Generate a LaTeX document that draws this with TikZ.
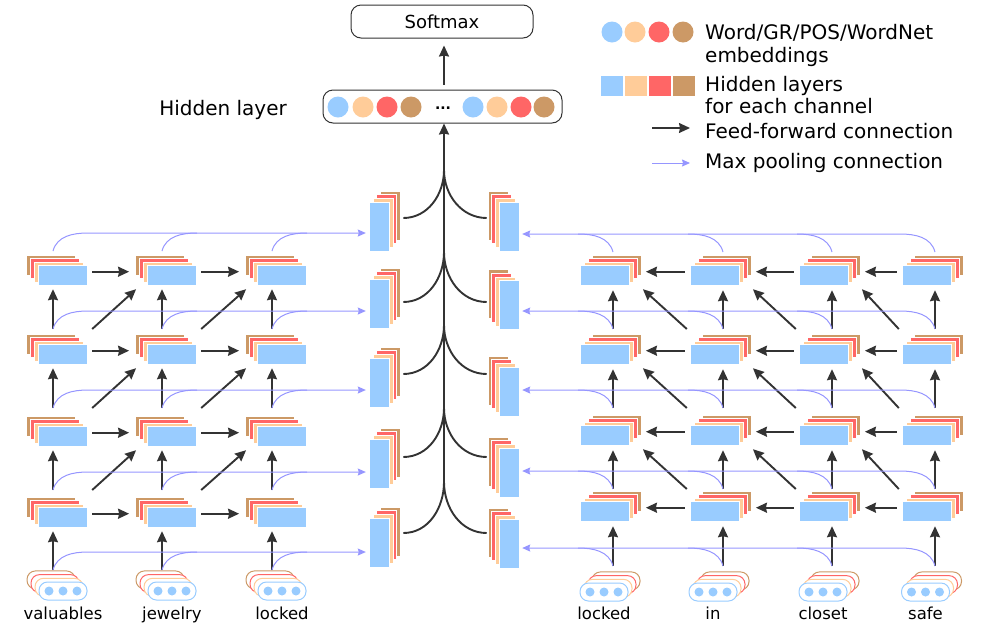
\documentclass[tikz,border=0pt]{standalone}
\usepackage{fontspec}
\setmainfont{DejaVu Sans}
\usetikzlibrary{arrows.meta}

\definecolor{hblue}{RGB}{153,204,255}
\definecolor{hpeach}{RGB}{255,204,153}
\definecolor{hred}{RGB}{255,102,102}
\definecolor{hbrown}{RGB}{204,153,102}
\definecolor{ffgray}{RGB}{51,51,51}
\definecolor{poolblue}{RGB}{150,150,255}

\begin{document}
\begin{tikzpicture}[x=1pt, y=-1pt,
    hlayer/.style={draw=white, line width=0.4pt, inner sep=0pt, minimum width=49pt, minimum height=20pt},
    vlayer/.style={draw=white, line width=0.4pt, inner sep=0pt, minimum width=20pt, minimum height=49pt},
    pill/.style={draw, fill=white, line width=1pt, rounded corners=8.5pt, inner sep=0pt, minimum width=48pt, minimum height=18pt},
    box/.style={draw=ffgray, line width=1pt, rounded corners=10pt, inner sep=0pt, minimum height=33pt},
    ff/.style={draw=ffgray, line width=1.9pt, -{Stealth[length=11pt, width=10pt, inset=1pt]}},
    link/.style={draw=ffgray, line width=1.9pt},
    pool/.style={draw=poolblue, line width=1pt, -{Stealth[length=8pt, width=7pt, inset=1pt]}},
    tap/.style={draw=poolblue, line width=1pt},
    word/.style={font=\fontsize{16.5}{20}\selectfont, inner sep=0pt},
    legtext/.style={font=\fontsize{20}{23}\selectfont, inner sep=0pt, anchor=base west}]
  \useasboundingbox (0,0) rectangle (981,622);

  % left hidden layers
  \foreach \i/\y in {1/275, 2/354, 3/436, 4/517}
    \foreach \j/\x in {1/62.5, 2/171.5, 3/281.5} {
      \foreach \k/\col in {3/hbrown, 2/hred, 1/hpeach}
        \node[hlayer, fill=\col] (L\i\j-\k) at (\x-3.9*\k, \y-3.3*\k) {};
      \node[hlayer, fill=hblue] (L\i\j) at (\x,\y) {};
    }
  % right hidden layers
  \foreach \i/\y in {1/275, 2/354, 3/435, 4/511}
    \foreach \j/\x in {1/604.5, 2/714.5, 3/823.5, 4/926.5} {
      \foreach \k/\col in {3/hbrown, 2/hred, 1/hpeach}
        \node[hlayer, fill=\col] (R\i\j-\k) at (\x+3.9*\k, \y-3.3*\k) {};
      \node[hlayer, fill=hblue] (R\i\j) at (\x,\y) {};
    }

  % input embeddings
  \foreach \j/\x/\w in {1/63/valuables, 2/172/jewelry, 3/282/locked} {
    \foreach \k/\col in {3/hbrown, 2/hred, 1/hpeach}
      \node[pill, draw=\col] at (\x-4*\k, 591-3.7*\k) {};
    \node[pill, draw=hblue] (IL\j) at (\x,591) {};
    \foreach \d in {-14,0,14}
      \fill[hblue] (\x+\d,591) circle (4.5pt);
    \node[word, anchor=base] (WL\j) at (\x,619) {\w};
  }
  \foreach \j/\x/\w in {1/604/locked, 2/713/in, 3/823/closet, 4/925.5/safe} {
    \foreach \k/\col in {3/hbrown, 2/hred, 1/hpeach}
      \node[pill, draw=\col] at (\x+4*\k, 592-3.7*\k) {};
    \node[pill, draw=hblue] (IR\j) at (\x,592) {};
    \foreach \d in {-14,0,14}
      \fill[hblue] (\x+\d,592) circle (4.5pt);
    \node[word, anchor=base] (WR\j) at (\x,619) {\w};
  }

  % pooled layers
  \foreach \i/\y in {1/226.5, 2/303.5, 3/382.5, 4/463.5, 5/542.5} {
    \foreach \k/\col in {3/hbrown, 2/hred, 1/hpeach}
      \node[vlayer, fill=\col] (PL\i-\k) at (379+3.7*\k, \y-3.7*\k) {};
    \node[vlayer, fill=hblue] (PL\i) at (379,\y) {};
  }
  \foreach \i/\y in {1/226.5, 2/305, 3/391.5, 4/472.5, 5/543.5} {
    \foreach \k/\col in {3/hbrown, 2/hred, 1/hpeach}
      \node[vlayer, fill=\col] (PR\i-\k) at (509-3.7*\k, \y-3.7*\k) {};
    \node[vlayer, fill=hblue] (PR\i) at (509,\y) {};
  }

  % hidden layer and softmax
  \node[box, minimum width=239pt] (hid) at (442.5,106.5) {};
  \foreach \x/\col in {338/hblue, 363/hpeach, 387/hred, 411/hbrown, 473/hblue, 497/hpeach, 521/hred, 544/hbrown}
    \fill[\col] (\x,107) circle (10.5pt);
  \node[anchor=base, inner sep=0pt, font=\fontsize{14}{16}\selectfont\bfseries] (dots) at (443,109) {...};
  \node[box, minimum width=182pt, font=\fontsize{18}{20}\selectfont] (soft) at (442,21.5) {Softmax};
  \node[legtext, anchor=base east] (hidlab) at (287,115) {Hidden layer};

  % taps
  \foreach \i/\ty in {1/251, 2/329, 3/408, 4/490, 5/570}
    \foreach \j/\x in {1/53, 2/162, 3/272}
      \coordinate (tL\i\j) at (\x,\ty);
  \foreach \i/\ty in {1/252, 2/329, 3/408, 4/489, 5/566}
    \foreach \j/\x in {1/613, 2/723, 3/832, 4/935}
      \coordinate (tR\i\j) at (\x,\ty);

  % feed-forward
  \foreach \i/\ii in {1/2, 2/3, 3/4, 4/5} {
    \foreach \j in {1,2,3}
      \draw[ff, shorten >=4pt] (tL\ii\j) -- (tL\ii\j |- L\i\j.south);
    \foreach \j in {1,2,3,4}
      \draw[ff, shorten >=5pt] (tR\ii\j) -- (tR\ii\j |- R\i\j.south);
  }
  \foreach \i in {1,2,3,4} {
    \foreach \j/\jj in {1/2, 2/3}
      \draw[ff, shorten <=5pt, shorten >=6pt] (L\i\j.east |- L\i\j-1.center) -- (L\i\jj-3.west |- L\i\j-1.center);
    \foreach \j/\jj in {1/2, 2/3, 3/4}
      \draw[ff, shorten <=5pt, shorten >=5pt] (R\i\jj.west |- R\i\j-1.center) -- (R\i\j-3.east |- R\i\j-1.center);
  }
  \foreach \i/\ii in {1/2, 2/3, 3/4} {
    \foreach \j/\jj in {1/2, 2/3}
      \draw[ff] ([xshift=5pt]L\ii\j.east |- tL\ii\j) -- ([shift={(1pt,-4pt)}]L\i\jj-3.west |- L\i\j.south);
    \foreach \j/\jj in {1/2, 2/3, 3/4}
      \draw[ff] ([xshift=-3pt]R\ii\jj.west |- tR\ii\jj) -- ([shift={(2pt,-4pt)}]R\i\j-3.east |- R\i\j.south);
  }

  % max pooling
  \foreach \i in {1,...,5} {
    \draw[pool, shorten >=3pt] (tL\i1) to[out=75, in=180] ++(35,-18) coordinate (aL\i) -- (PL\i.west |- aL\i);
    \foreach \j in {2,3}
      \draw[tap] (tL\i\j) to[out=75, in=180] ++(35,-18);
    \draw[pool, shorten >=3pt] (tR\i4) to[out=105, in=0] ++(-35,-18) coordinate (aR\i) -- (PR\i.east |- aR\i);
    \foreach \j in {1,2,3}
      \draw[tap] (tR\i\j) to[out=105, in=0] ++(-35,-18);
  }

  % merge into hidden layer
  \foreach \i/\ys/\ym in {1/218/170, 2/302/252, 3/374/325, 4/457/408, 5/533/482} {
    \coordinate (J\i) at (444,\ym);
    \draw[link] ([xshift=3pt]PL\i-3.east |- 0,\ys) to[out=0, in=-90] (J\i);
    \draw[link] ([xshift=-1pt]PR\i-3.west |- 0,\ys) to[out=180, in=-90] (J\i);
  }
  \draw[ff] (J5) -- (J5 |- hid.south);
  \draw[ff, shorten <=5pt, shorten >=7pt] (hid.north -| J5) -- (soft.south -| J5);

  % legend
  \foreach \x/\col in {612/hblue, 635/hpeach, 659/hred, 683/hbrown}
    \fill[\col] (\x,32) circle (10.5pt);
  \node[legtext] (embtxt) at (705,39) {Word/GR/POS/WordNet};
  \node[legtext] (embtxt2) at (705,62) {embeddings};
  \foreach \x/\col in {612/hblue, 636/hpeach, 660/hred, 684/hbrown}
    \node[fill=\col, inner sep=0pt, minimum width=22pt, minimum height=20pt] at (\x,86) {};
  \node[legtext] (laytxt) at (705,91) {Hidden layers};
  \node[legtext] (laytxt2) at (705,113) {for each channel};
  \coordinate (ffa) at (652,128);
  \coordinate (ffb) at (690,128);
  \draw[ff, line width=1.5pt] (ffa) -- (ffb);
  \node[legtext] (fftxt) at (705,138) {Feed-forward connection};
  \coordinate (pla) at (652,163);
  \coordinate (plb) at (690,163);
  \draw[pool] (pla) -- (plb);
  \node[legtext] (pltxt) at (705,168) {Max pooling connection};
\end{tikzpicture}
\end{document}
